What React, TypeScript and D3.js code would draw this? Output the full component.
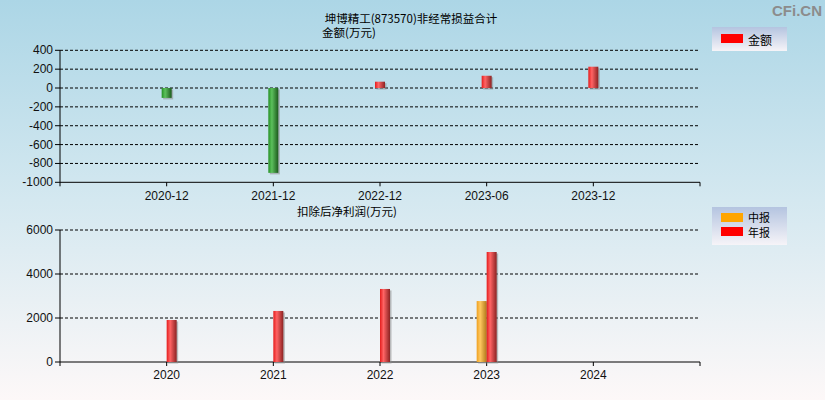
import React from 'react';
import * as d3 from 'd3';

const TITLE = "坤博精工(873570)非经常损益合计";
const TOP_UNIT = "金额(万元)";
const BOTTOM_TITLE = "扣除后净利润(万元)";

const topCategories = ["2020-12", "2021-12", "2022-12", "2023-06", "2023-12"];
const topValues = [-105, -900, 67, 130, 226];
const topTicks = [400, 200, 0, -200, -400, -600, -800, -1000];

const bottomCategories = ["2020", "2021", "2022", "2023", "2024"];
const interimValues: (number | null)[] = [null, null, null, 2770, null];
const annualValues: (number | null)[] = [1910, 2320, 3320, 5000, null];
const bottomTicks = [0, 2000, 4000, 6000];

const FONT = "'Liberation Sans', Arial, 'Noto Sans CJK SC', sans-serif";
const CJK = "'Noto Sans CJK SC', 'Liberation Sans', sans-serif";

const W = 825;
const H = 400;
const left = 60;
const right = 700;
const barW = 10;

const App: React.FC = () => {
    const xTop = d3.scalePoint<string>().domain(topCategories).range([left, right]).padding(1);
    const yTop = d3.scaleLinear().domain([-1000, 400]).range([182.3, 50.3]);

    const xBot = d3.scalePoint<string>().domain(bottomCategories).range([left, right]).padding(1);
    const yBot = d3.scaleLinear().domain([0, 6000]).range([362, 230]);

    const bar = (x: number, y0: number, y1: number, grad: string, key: string) => {
        const top = Math.min(y0, y1);
        const h = Math.abs(y1 - y0);
        return (
            <g key={key}>
                <rect x={x + 1.5} y={top + 1.5} width={barW} height={h} fill="#8a8a8a" opacity={0.55} />
                <rect x={x} y={top} width={barW} height={h} fill={`url(#${grad})`} />
            </g>
        );
    };

    const gradStops = (id: string, c0: string, c1: string, c2: string) => (
        <linearGradient id={id} x1="0" x2="1" y1="0" y2="0">
            <stop offset="0%" stopColor={c0} />
            <stop offset="35%" stopColor={c1} />
            <stop offset="100%" stopColor={c2} />
        </linearGradient>
    );

    return (
        <svg width={W} height={H} style={{ position: 'absolute', left: 0, top: 0, display: 'block' }}>
            <defs>
                <linearGradient id="bg" x1="0" x2="0" y1="0" y2="1">
                    <stop offset="0%" stopColor="#acd6e6" />
                    <stop offset="50%" stopColor="#d4e8f0" />
                    <stop offset="100%" stopColor="#fdf8f8" />
                </linearGradient>
                <linearGradient id="legbg" x1="0" x2="0" y1="0" y2="1">
                    <stop offset="0%" stopColor="#b4c4e0" />
                    <stop offset="100%" stopColor="#f6f4f8" />
                </linearGradient>
                {gradStops("gRed", "#e41c1c", "#ff6464", "#8c2222")}
                {gradStops("gGreen", "#249024", "#5cc05c", "#1c5a1c")}
                {gradStops("gOrange", "#eea020", "#ffc860", "#b07818")}
            </defs>
            <rect x={0} y={0} width={W} height={H} fill="url(#bg)" />

            {/* watermark */}
            <text x={822} y={16} textAnchor="end" fontFamily={FONT} fontWeight="bold" fontSize={15} fill="#8c8c8c">CFi.CN</text>

            {/* titles */}
            <text x={411} y={22.5} textAnchor="middle" fontFamily={CJK} fontSize={11.5} fill="#000">{TITLE}</text>
            <text x={322} y={37} fontFamily={CJK} fontSize={11.5} fill="#000">{TOP_UNIT}</text>
            <text x={297} y={216} fontFamily={CJK} fontSize={11.5} fill="#000">{BOTTOM_TITLE}</text>

            {/* top chart */}
            <g fontFamily={FONT} fontSize={12}>
                {topTicks.map(t => (
                    <g key={t}>
                        {t !== -1000 && (
                            <line x1={left} x2={right} y1={yTop(t)} y2={yTop(t)} stroke="#000" strokeDasharray="3,2" />
                        )}
                        <line x1={left - 5} x2={left} y1={yTop(t)} y2={yTop(t)} stroke="#000" />
                        <text x={left - 7} y={yTop(t)} textAnchor="end" dominantBaseline="central" fill="#111">{t}</text>
                    </g>
                ))}
                <line x1={left} x2={left} y1={yTop(400)} y2={yTop(-1000)} stroke="#000" />
                <line x1={left} x2={right} y1={yTop(-1000)} y2={yTop(-1000)} stroke="#000" />
                {[left, right].map(x => (
                    <line key={x} x1={x} x2={x} y1={yTop(-1000)} y2={yTop(-1000) + 4} stroke="#000" />
                ))}
                {topCategories.map(c => (
                    <g key={c}>
                        <line x1={xTop(c)!} x2={xTop(c)!} y1={yTop(-1000)} y2={yTop(-1000) + 4} stroke="#000" />
                        <text x={xTop(c)!} y={yTop(-1000) + 14} textAnchor="middle" dominantBaseline="central" fill="#111">{c}</text>
                    </g>
                ))}
                {topValues.map((v, i) =>
                    bar(xTop(topCategories[i])! - barW / 2, yTop(0), yTop(v), v < 0 ? "gGreen" : "gRed", `t${i}`)
                )}
            </g>

            {/* top legend */}
            <rect x={712} y={27} width={75} height={24} fill="url(#legbg)" />
            <rect x={721} y={34} width={22} height={9} fill="#ff0000" />
            <text x={748} y={39} dominantBaseline="central" fontFamily={CJK} fontSize={12} fill="#000">金额</text>

            {/* bottom chart */}
            <g fontFamily={FONT} fontSize={12}>
                {bottomTicks.map(t => (
                    <g key={t}>
                        {t !== 0 && (
                            <line x1={left} x2={right} y1={yBot(t)} y2={yBot(t)} stroke="#000" strokeDasharray="3,2" />
                        )}
                        <line x1={left - 5} x2={left} y1={yBot(t)} y2={yBot(t)} stroke="#000" />
                        <text x={left - 7} y={yBot(t)} textAnchor="end" dominantBaseline="central" fill="#111">{t}</text>
                    </g>
                ))}
                <line x1={left} x2={left} y1={yBot(6000)} y2={yBot(0)} stroke="#000" />
                <line x1={left} x2={right} y1={yBot(0)} y2={yBot(0)} stroke="#000" />
                {[left, right].map(x => (
                    <line key={x} x1={x} x2={x} y1={yBot(0)} y2={yBot(0) + 4} stroke="#000" />
                ))}
                {bottomCategories.map(c => (
                    <g key={c}>
                        <line x1={xBot(c)!} x2={xBot(c)!} y1={yBot(0)} y2={yBot(0) + 4} stroke="#000" />
                        <text x={xBot(c)!} y={yBot(0) + 13} textAnchor="middle" dominantBaseline="central" fill="#111">{c}</text>
                    </g>
                ))}
                {interimValues.map((v, i) =>
                    v === null ? null : bar(xBot(bottomCategories[i])! - barW, yBot(0), yBot(v), "gOrange", `i${i}`)
                )}
                {annualValues.map((v, i) =>
                    v === null ? null : bar(xBot(bottomCategories[i])!, yBot(0), yBot(v), "gRed", `a${i}`)
                )}
            </g>

            {/* bottom legend */}
            <rect x={712} y={207} width={75} height={38} fill="url(#legbg)" />
            <rect x={721} y={213} width={22} height={9} fill="#ffa500" />
            <text x={748} y={217} dominantBaseline="central" fontFamily={CJK} fontSize={11} fill="#000">中报</text>
            <rect x={721} y={227} width={22} height={9} fill="#ff0000" />
            <text x={748} y={232} dominantBaseline="central" fontFamily={CJK} fontSize={11} fill="#000">年报</text>
        </svg>
    );
};

export default App;
